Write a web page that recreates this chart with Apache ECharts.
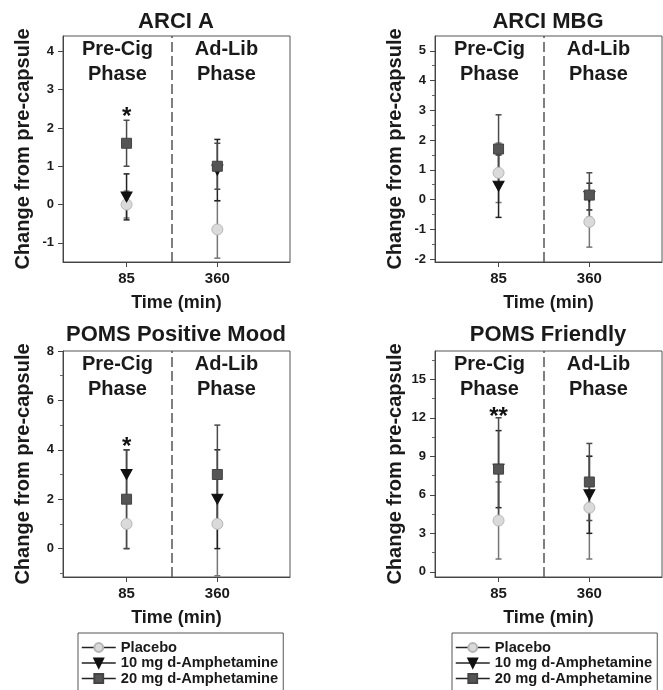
<!DOCTYPE html>
<html>
<head>
<meta charset="utf-8">
<script src="https://cdn.jsdelivr.net/npm/echarts@6/dist/echarts.min.js"></script>
<style>
html, body { margin: 0; padding: 0; background: #fff; }
#chart { width: 663px; height: 690px; }
</style>
</head>
<body>
<div id="chart"></div>
<script>
// time points (plotted at positions 1 and 2, phase split at 1.5)
var timeLabels = ['85', '360'];
var timePos = [1, 2];
var groupNames = ['Placebo', '10 mg d-Amphetamine', '20 mg d-Amphetamine'];
var panelTitles = ['ARCI A', 'ARCI MBG', 'POMS Positive Mood', 'POMS Friendly'];

// means [85, 360] per group: placebo, 10 mg, 20 mg
var arciA_mean = [[0, -0.65], [0.2, 0.9], [1.6, 1.0]];
var arciA_err  = [[0.35, 0.75], [0.6, 0.8], [0.6, 0.6]];
var arciMBG_mean = [[0.9, -0.75], [0.45, 0.1], [1.7, 0.15]];
var arciMBG_err  = [[1.0, 0.85], [1.05, 0.45], [1.15, 0.75]];
var pomsPos_mean = [[1, 1], [3, 2], [2, 3]];
var pomsPos_err  = [[1, 2.1], [1, 2], [2, 2]];
var pomsFr_mean = [[4, 5], [8, 6], [8, 7]];
var pomsFr_err  = [[3, 4], [3, 3], [4, 3]];

var yRange = [[-1.5, 4.4], [-2.1, 5.5], [-1.15, 8], [-0.4, 17.2]];
var yTicks = [[-1, 0, 1, 2, 3, 4], [-2, -1, 0, 1, 2, 3, 4, 5], [0, 2, 4, 6, 8], [0, 3, 6, 9, 12, 15]];
var yMinor = [[], [-1.5, -0.5, 0.5, 1.5, 2.5, 3.5, 4.5], [-1, 1, 3, 5, 7], [1.5, 4.5, 7.5, 10.5, 13.5, 16.5]];

// significance marks above the 85 min point
var sigMarks = [[[1, 2.45, '*']], [], [[1, 4.4, '*']], [[1, 12.6, '**']]];

var panelMeans = [arciA_mean, arciMBG_mean, pomsPos_mean, pomsFr_mean];
var panelErrs = [arciA_err, arciMBG_err, pomsPos_err, pomsFr_err];

var grids = [
    {left: 63, width: 227, top: 36, height: 226},
    {left: 435, width: 227, top: 36, height: 226},
    {left: 63, width: 227, top: 351, height: 226},
    {left: 435, width: 227, top: 351, height: 226}
];
var titleX = [176, 548];
var titleTop = [11, 11, 324, 324];

var symbols = ['circle', 'path://M0,0 L10,0 L5,9 Z', 'rect'];
var symbolSizes = [11, [11, 10], 10];
var fills = ['#dadada', '#111', '#555'];
var borders = ['#b5b5b5', '#111', '#444'];
var barColors = ['#767676', '#222', '#4a4a4a'];

var FONT = 'Liberation Sans, Arial, sans-serif';

function errorRender(color) {
    return function (params, api) {
        var x = api.value(0);
        var top = api.coord([x, api.value(2)]);
        var bot = api.coord([x, api.value(1)]);
        var st = {stroke: color, lineWidth: 1.5};
        return {
            type: 'group',
            children: [
                {type: 'line', shape: {x1: top[0], y1: top[1], x2: bot[0], y2: bot[1]}, style: st},
                {type: 'line', shape: {x1: top[0] - 3, y1: top[1], x2: top[0] + 3, y2: top[1]}, style: st},
                {type: 'line', shape: {x1: bot[0] - 3, y1: bot[1], x2: bot[0] + 3, y2: bot[1]}, style: st}
            ]
        };
    };
}

var option = {
    animation: false,
    textStyle: {fontFamily: FONT},
    title: [],
    grid: [],
    xAxis: [],
    yAxis: [],
    series: [],
    legend: []
};

for (var i = 0; i < 4; i++) {
    var g = grids[i];
    option.grid.push({
        left: g.left, top: g.top, width: g.width, height: g.height,
        show: true, borderColor: '#555', borderWidth: 1, backgroundColor: 'transparent'
    });
    option.title.push({
        text: panelTitles[i], left: titleX[i % 2], top: titleTop[i], textAlign: 'center', padding: 0,
        textStyle: {fontSize: 22, fontWeight: 'bold', color: '#1a1a1a', fontFamily: FONT}
    });
    option.xAxis.push({
        type: 'value', gridIndex: i, min: 0.3, max: 2.8,
        axisLine: {show: true, onZero: false, lineStyle: {color: '#444', width: 1}},
        axisTick: {show: true, customValues: timePos, length: 5, lineStyle: {color: '#444'}},
        axisLabel: {
            customValues: timePos, margin: 9, fontSize: 15, fontWeight: 'bold', color: '#1a1a1a',
            formatter: function (v) { return timeLabels[timePos.indexOf(v)]; }
        },
        splitLine: {show: false},
        name: 'Time (min)', nameLocation: 'middle', nameGap: 32,
        nameTextStyle: {fontSize: 18, fontWeight: 'bold', color: '#1a1a1a'}
    });
    var yMainIdx = option.yAxis.length;
    option.yAxis.push({
        type: 'value', gridIndex: i, min: yRange[i][0], max: yRange[i][1],
        axisLine: {show: true, onZero: false, lineStyle: {color: '#444', width: 1}},
        axisTick: {show: true, customValues: yTicks[i], length: 5, lineStyle: {color: '#444'}},
        axisLabel: {customValues: yTicks[i], margin: 9, fontSize: 13, fontWeight: 'bold', color: '#1a1a1a'},
        splitLine: {show: false},
        name: 'Change from pre-capsule', nameLocation: 'middle', nameGap: 30,
        nameTextStyle: {fontSize: 20, fontWeight: 'bold', color: '#1a1a1a'}
    });
    option.yAxis.push({
        type: 'value', gridIndex: i, min: yRange[i][0], max: yRange[i][1], position: 'left',
        axisLine: {show: false, onZero: false},
        axisTick: {show: yMinor[i].length > 0, customValues: yMinor[i].length ? yMinor[i] : [yRange[i][0]], length: 3, lineStyle: {color: '#666'}},
        axisLabel: {show: false},
        splitLine: {show: false}
    });

    // error bars
    for (var k = 0; k < 3; k++) {
        var m = panelMeans[i][k], e = panelErrs[i][k];
        option.series.push({
            type: 'custom', xAxisIndex: i, yAxisIndex: yMainIdx, silent: true, z: 2,
            encode: {x: 0, y: [1, 2]},
            renderItem: errorRender(barColors[k]),
            data: timePos.map(function (x, j) { return [x, m[j] - e[j], m[j] + e[j]]; })
        });
    }
    // markers
    for (var k2 = 0; k2 < 3; k2++) {
        var mm = panelMeans[i][k2];
        var s = {
            type: 'line', name: groupNames[k2], xAxisIndex: i, yAxisIndex: yMainIdx,
            z: 3 + k2, silent: true,
            symbol: symbols[k2], symbolSize: symbolSizes[k2], showSymbol: true,
            itemStyle: {color: fills[k2], borderColor: borders[k2], borderWidth: 1, opacity: 1},
            lineStyle: {opacity: 0},
            data: timePos.map(function (x, j) { return [x, mm[j]]; })
        };
        if (k2 === 0) {
            s.markLine = {
                silent: true, symbol: ['none', 'none'], label: {show: false},
                lineStyle: {type: [10, 4], color: '#555', width: 1.5, opacity: 1},
                data: [{xAxis: 1.5}]
            };
            s.markArea = {
                silent: true, itemStyle: {color: 'transparent'},
                label: {
                    show: true, position: 'insideTop', distance: 1,
                    fontSize: 20, fontWeight: 'bold', lineHeight: 25, color: '#1a1a1a', fontFamily: FONT
                },
                data: [
                    [{xAxis: 0.3, name: 'Pre-Cig\nPhase'}, {xAxis: 1.5}],
                    [{xAxis: 1.5, name: 'Ad-Lib\nPhase'}, {xAxis: 2.7}]
                ]
            };
        }
        if (k2 === 2 && sigMarks[i].length) {
            s.markPoint = {
                silent: true, symbol: 'circle', symbolSize: 1,
                itemStyle: {color: 'rgba(0,0,0,0)'},
                label: {
                    show: true, position: 'inside', offset: [0, 7],
                    fontSize: 24, fontWeight: 'bold', color: '#111', fontFamily: FONT,
                    formatter: function (p) { return p.data.value; }
                },
                data: sigMarks[i].map(function (d) { return {coord: [d[0], d[1]], value: d[2]}; })
            };
        }
        option.series.push(s);
    }
}

[78, 452].forEach(function (lx) {
    option.legend.push({
        data: groupNames, orient: 'vertical', left: lx, top: 633, height: 120,
        selectedMode: false, itemWidth: 34, itemHeight: 11, itemGap: 0.5,
        padding: [7, 5, 14, 3],
        borderColor: '#555', borderWidth: 1,
        lineStyle: {color: '#222', width: 1.5, opacity: 1},
        textStyle: {fontSize: 14.7, fontWeight: 'bold', color: '#1a1a1a', fontFamily: FONT}
    });
});

echarts.init(document.getElementById('chart')).setOption(option);
</script>
</body>
</html>
